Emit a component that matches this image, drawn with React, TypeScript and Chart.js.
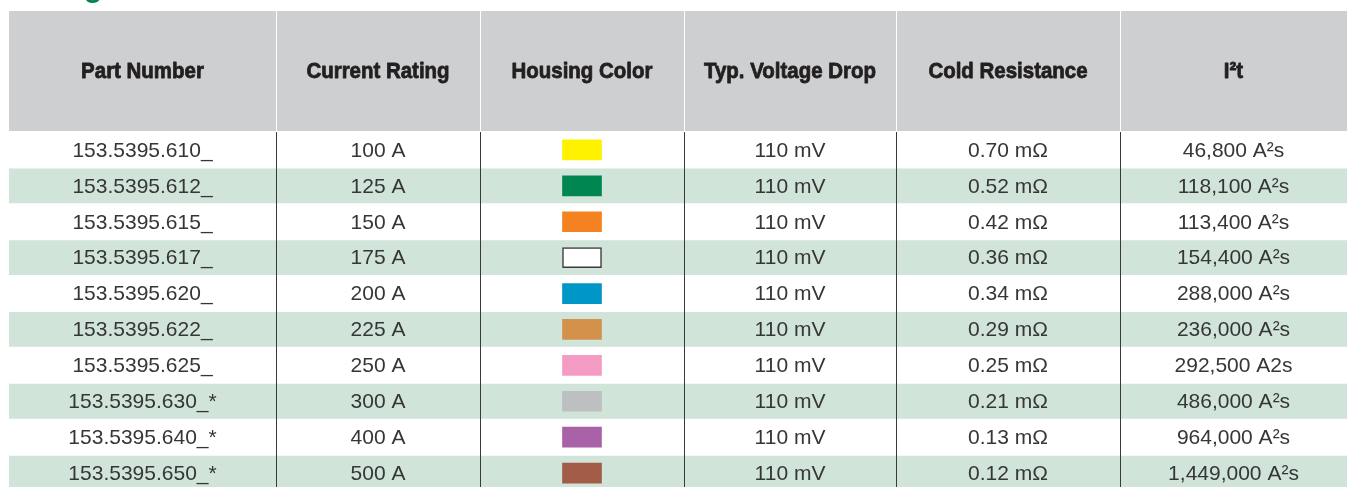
import React, { useEffect, useRef } from "react";
import { Chart, registerables } from "chart.js";
Chart.register(...registerables);

// ---------- data ----------
const title = "Ratings";
const headers = ["Part Number", "Current Rating", "Housing Color", "Typ. Voltage Drop", "Cold Resistance", "I²t"];
const partNumbers = [
  "153.5395.610_", "153.5395.612_", "153.5395.615_", "153.5395.617_", "153.5395.620_",
  "153.5395.622_", "153.5395.625_", "153.5395.630_*", "153.5395.640_*", "153.5395.650_*",
];
const currentRatings = ["100 A", "125 A", "150 A", "175 A", "200 A", "225 A", "250 A", "300 A", "400 A", "500 A"];
const housingColors = ["#fff200", "#00874f", "#f58220", "#ffffff", "#0096c8", "#d4914c", "#f49bc4", "#bdbfc1", "#a962a7", "#a35c47"];
const voltageDrops = ["110 mV", "110 mV", "110 mV", "110 mV", "110 mV", "110 mV", "110 mV", "110 mV", "110 mV", "110 mV"];
const coldResistances = ["0.70 mΩ", "0.52 mΩ", "0.42 mΩ", "0.36 mΩ", "0.34 mΩ", "0.29 mΩ", "0.25 mΩ", "0.21 mΩ", "0.13 mΩ", "0.12 mΩ"];
const i2tValues = [
  "46,800 A²s", "118,100 A²s", "113,400 A²s", "154,400 A²s", "288,000 A²s",
  "236,000 A²s", "292,500 A2s", "486,000 A²s", "964,000 A²s", "1,449,000 A²s",
];

// ---------- layout / style ----------
const COL_EDGES = [0, 267, 471, 675, 887, 1111, 1338];
const SWATCH_HALF = 19.5;
const HEADER_TOP = 11;
const ROW_GREEN = "#d0e4d9";
const HEADER_GRAY = "#cdcfd1";
const HEADER_FONT = "bold 22px 'Liberation Sans', Arial, sans-serif";
const HEADER_REF_TEXT = "Typ. Voltage Drop";
const HEADER_REF_WIDTH = 172;

const colCenter = (i: number) => (COL_EDGES[i] + COL_EDGES[i + 1]) / 2;

const tablePlugin = {
  id: "tablePlugin",
  beforeDraw(chart: any) {
    const ctx = chart.ctx;
    const xs = chart.scales.x;
    const top = chart.chartArea.top;
    ctx.save();
    ctx.fillStyle = "#ffffff";
    ctx.fillRect(0, 0, chart.width, chart.height);
    // title (mostly cut off above)
    ctx.fillStyle = "#00844f";
    ctx.font = "bold 30px 'Liberation Sans', Arial, sans-serif";
    ctx.textAlign = "left";
    ctx.textBaseline = "alphabetic";
    ctx.fillText(title, xs.left, -3);
    // header band
    const hBot = top - 1;
    ctx.fillStyle = HEADER_GRAY;
    ctx.fillRect(xs.left, HEADER_TOP, xs.right - xs.left, hBot - HEADER_TOP);
    ctx.fillStyle = "#ffffff";
    for (let i = 1; i < COL_EDGES.length - 1; i++) {
      const px = Math.round(xs.getPixelForValue(COL_EDGES[i]));
      ctx.fillRect(px, HEADER_TOP, 1, hBot - HEADER_TOP);
    }
    // condensed heavy header text
    ctx.fillStyle = "#231f20";
    ctx.strokeStyle = "#231f20";
    ctx.lineWidth = 0.8;
    ctx.lineJoin = "round";
    ctx.font = HEADER_FONT;
    ctx.textAlign = "center";
    ctx.textBaseline = "middle";
    const k = HEADER_REF_WIDTH / ctx.measureText(HEADER_REF_TEXT).width;
    headers.forEach((h, i) => {
      ctx.save();
      ctx.translate(xs.getPixelForValue(colCenter(i)), (HEADER_TOP + hBot) / 2 + 1);
      ctx.scale(k, 1);
      ctx.fillText(h, 0, 0);
      ctx.strokeText(h, 0, 0);
      ctx.restore();
    });
    ctx.restore();
  },
  afterDatasetsDraw(chart: any) {
    const ctx = chart.ctx;
    const xs = chart.scales.x;
    const ys = chart.scales.y;
    const cols: (string[] | null)[] = [partNumbers, currentRatings, null, voltageDrops, coldResistances, i2tValues];
    ctx.save();
    ctx.fillStyle = "#363636";
    ctx.font = "21px 'Liberation Sans', Arial, sans-serif";
    ctx.textAlign = "center";
    ctx.textBaseline = "middle";
    cols.forEach((col, c) => {
      if (!col) return;
      col.forEach((txt, r) => {
        ctx.fillText(txt, xs.getPixelForValue(colCenter(c)), ys.getPixelForValue(r) + 1);
      });
    });
    ctx.restore();
  },
};

export default function App() {
  const ref = useRef<HTMLCanvasElement | null>(null);
  useEffect(() => {
    document.body.style.margin = "0";
    document.body.style.overflow = "hidden";
    const canvas = ref.current!;
    const chart = new Chart(canvas, {
      type: "bar",
      data: {
        labels: partNumbers,
        datasets: [
          {
            label: "Housing Color",
            data: partNumbers.map(() => [colCenter(2) - SWATCH_HALF, colCenter(2) + SWATCH_HALF]) as any,
            backgroundColor: housingColors,
            borderColor: housingColors.map((c) => (c === "#ffffff" ? "#3a3a3a" : c)),
            borderWidth: housingColors.map((c) => (c === "#ffffff" ? 1.5 : 0)),
            borderSkipped: false,
            barThickness: 20,
            grouped: false,
            order: 1,
          } as any,
          {
            label: "rows",
            data: partNumbers.map(() => [COL_EDGES[0], COL_EDGES[COL_EDGES.length - 1]]) as any,
            backgroundColor: partNumbers.map((_, i) => (i % 2 === 1 ? ROW_GREEN : "#ffffff")),
            borderWidth: 0,
            barPercentage: 0.97,
            categoryPercentage: 1,
            grouped: false,
            order: 2,
          } as any,
        ],
      },
      options: {
        indexAxis: "y",
        responsive: false,
        animation: false,
        events: [],
        layout: { padding: { left: 9, top: 132, right: 0, bottom: 0 } },
        plugins: { legend: { display: false }, tooltip: { enabled: false } },
        scales: {
          x: {
            type: "linear",
            min: COL_EDGES[0],
            max: COL_EDGES[COL_EDGES.length - 1],
            display: true,
            z: 1,
            afterBuildTicks: (scale: any) => {
              scale.ticks = COL_EDGES.slice(1, -1).map((v) => ({ value: v }));
            },
            ticks: { display: false },
            grid: { color: "#3a3a3a", lineWidth: 1, drawTicks: false, z: 1 },
            border: { display: false },
          },
          y: {
            type: "category",
            display: false,
          },
        },
      } as any,
      plugins: [tablePlugin],
    });
    return () => chart.destroy();
  }, []);
  return (
    <div style={{ width: 1347, height: 487, overflow: "hidden" }}>
      <canvas ref={ref} width={1347} height={491} style={{ display: "block" }} />
    </div>
  );
}
